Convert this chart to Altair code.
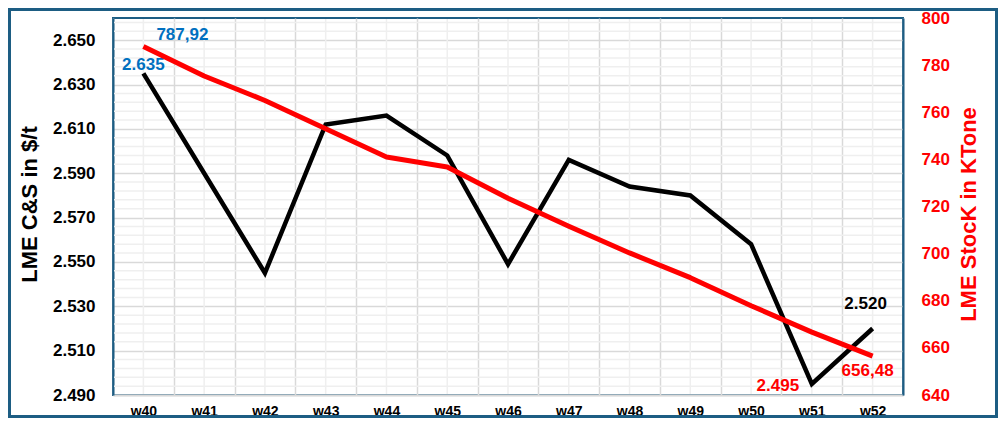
import altair as alt
import pandas as pd

weeks = ["w40", "w41", "w42", "w43", "w44", "w45", "w46", "w47", "w48", "w49", "w50", "w51", "w52"]
cs_price = [2635, 2590, 2545, 2612, 2616, 2598, 2549, 2596, 2584, 2580, 2558, 2495, 2520]
lme_stock = [787.92, 775.4, 765.0, 753.0, 741.0, 736.8, 723.5, 711.6, 700.3, 689.8, 677.9, 666.7, 656.48]
left_ticks = [2490, 2510, 2530, 2550, 2570, 2590, 2610, 2630, 2650]
right_ticks = [640, 660, 680, 700, 720, 740, 760, 780, 800]
left_domain = [2490, 2660]
right_domain = [640, 800]

df = pd.DataFrame({"week": weeks, "cs": cs_price, "stock": lme_stock})

W, H = 790, 377
FONT = "Liberation Sans"
BORDER = "#1D5D83"
MAJOR = "#d9d9d9"
MINOR = "#efefef"

x_axis = alt.Axis(
    title=None, labelAngle=0, labelFont=FONT, labelFontSize=14, labelFontWeight="bold",
    labelColor="black", ticks=False, labelPadding=9, tickBand="extent",
    grid=True, gridColor=MAJOR, gridWidth=1.5,
    domain=True, domainColor=MAJOR, domainWidth=2,
)
x_enc = alt.X("week:N", sort=weeks, bandPosition=0.5,
              scale=alt.Scale(type="band", paddingInner=0, paddingOuter=0),
              axis=x_axis)

left_scale = alt.Scale(domain=left_domain, nice=False, zero=False)
left_axis = alt.Axis(
    values=left_ticks, format=",.0f", grid=True, gridColor=MAJOR, gridWidth=1.5,
    ticks=False, labelPadding=18, labelFont=FONT, labelFontSize=17, labelFontWeight="bold",
    labelColor="black", domain=True, domainColor=BORDER, domainWidth=2,
    title="LME C&S in $/t", titleFont=FONT, titleFontSize=22, titleFontWeight="bold",
    titleColor="black", titleAngle=270, titleX=-84, titleY=186,
    titleAlign="center", titleBaseline="middle",
)
right_scale = alt.Scale(domain=right_domain, nice=False, zero=False)
right_axis = alt.Axis(
    orient="right", values=right_ticks, format="d", grid=False,
    ticks=False, labelPadding=18, labelFont=FONT, labelFontSize=17, labelFontWeight="bold",
    labelColor="#FF0000", domain=True, domainColor=BORDER, domainWidth=2,
    title="LME StocK in KTone", titleFont=FONT, titleFontSize=22, titleFontWeight="bold",
    titleColor="#FF0000", titleAngle=270, titleX=65, titleY=196,
    titleAlign="center", titleBaseline="middle",
)

base = alt.Chart(df)

# light gridlines (minor horizontal, category-centre vertical)
minor_h = alt.Chart(alt.sequence(2490, 2661, 4, as_="v")).transform_filter(
    "(datum.v - 2490) % 20 != 0"
).mark_rule(color=MINOR, strokeWidth=1.5).encode(
    y=alt.Y("v:Q", scale=left_scale, axis=left_axis),
    x=alt.value(1), x2=alt.value(W - 1),
)
centre_v = base.mark_rule(color=MINOR, strokeWidth=1.5).encode(
    x=x_enc, y=alt.value(1), y2=alt.value(H - 1),
)

black_line = base.mark_line(color="black", strokeWidth=4.5, strokeJoin="miter").encode(
    x=x_enc, y=alt.Y("cs:Q", scale=left_scale, axis=left_axis),
)

def cs_label(week, color, dx, dy):
    return base.transform_filter(alt.datum.week == week).mark_text(
        font=FONT, fontSize=17, fontWeight="bold", color=color, dx=dx, dy=dy,
        align="center", baseline="middle",
    ).encode(
        x=x_enc, y=alt.Y("cs:Q", scale=left_scale, axis=left_axis),
        text=alt.Text("cs:Q", format=",.0f"),
    )

left_group = alt.layer(
    minor_h, centre_v, black_line,
    cs_label("w40", "#0070C0", 0, -8),
    cs_label("w51", "#FF0000", -34, 2),
    cs_label("w52", "black", -7, -24),
)

red_line = base.mark_line(color="#FF0000", strokeWidth=5, strokeJoin="round").encode(
    x=x_enc, y=alt.Y("stock:Q", scale=right_scale, axis=right_axis),
)

def st_label(week, color, dx, dy):
    return base.transform_filter(alt.datum.week == week).mark_text(
        font=FONT, fontSize=17, fontWeight="bold", color=color, dx=dx, dy=dy,
        align="center", baseline="middle",
    ).encode(
        x=x_enc, y=alt.Y("stock:Q", scale=right_scale, axis=right_axis),
        text=alt.Text("stock:Q", format=".2f"),
    )

right_group = alt.layer(
    red_line,
    st_label("w40", "#0070C0", 39, -11),
    st_label("w52", "#FF0000", -5, 15),
)

PAD = {"left": 105, "top": 10, "right": 95, "bottom": 23}
TOTAL_W = PAD["left"] + W + PAD["right"]
TOTAL_H = PAD["top"] + H + PAD["bottom"]

frame = alt.Chart(alt.Data(values=[{}])).mark_rect(
    fill="transparent", stroke=BORDER, strokeWidth=3,
).encode(
    x=alt.value(-PAD["left"] + 1.5), x2=alt.value(TOTAL_W - PAD["left"] - 1.5),
    y=alt.value(-PAD["top"] + 1.5), y2=alt.value(TOTAL_H - PAD["top"] - 1.5),
)

chart = alt.layer(left_group, right_group, frame).resolve_scale(
    y="independent"
).properties(
    width=W, height=H, padding=PAD, autosize=alt.AutoSizeParams(type="none"),
    background="white",
).configure(
    font=FONT,
    locale={"number": {"decimal": ",", "thousands": ".", "grouping": [3], "currency": ["", " €"]}},
).configure_view(stroke=BORDER, strokeWidth=2)

chart.save("out.html", embed_options={"renderer": "svg", "actions": False})
